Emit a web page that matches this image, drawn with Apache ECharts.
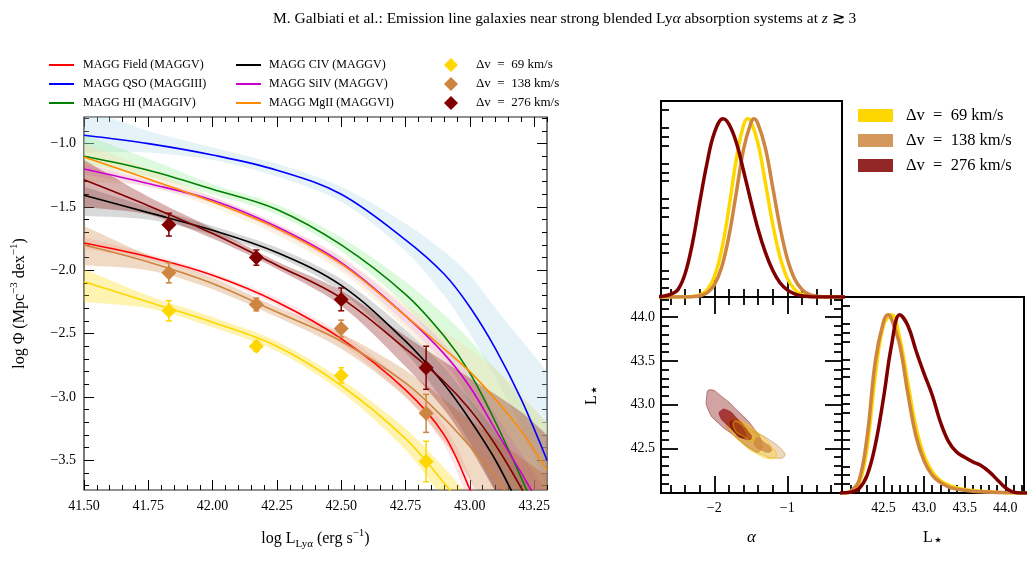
<!DOCTYPE html>
<html>
<head>
<meta charset="utf-8">
<script src="https://cdn.jsdelivr.net/npm/echarts@6/dist/echarts.min.js"></script>
<style>
  html, body { margin: 0; padding: 0; background: #fff; }
  #chart { width: 1032px; height: 575px; }
</style>
</head>
<body>
<div id="chart"></div>
<script>
  // ---- luminosity function panel ----
  const logL = [41.5, 41.75, 42.0, 42.25, 42.5, 42.75, 42.9, 43.0, 43.1, 43.2, 43.3];

  const fieldFit = [-1.785, -1.894, -2.04, -2.25, -2.54, -2.945, -3.30, -3.73, -4.25, -4.8, -5.4];
  const fieldLo = [-1.83, -1.92, -2.06, -2.28, -2.58, -3.0, -3.38, -3.85, -4.4, -5.0, -5.6];
  const fieldHi = [-1.74, -1.87, -2.02, -2.22, -2.50, -2.89, -3.22, -3.62, -4.1, -4.6, -5.2];

  const qsoFit = [-0.934, -1.00, -1.09, -1.21, -1.40, -1.76, -2.03, -2.29, -2.62, -3.02, -3.50];
  const qsoLo = [-1.07, -1.07, -1.13, -1.26, -1.46, -1.85, -2.20, -2.50, -2.85, -3.25, -3.70];
  const qsoHi = [-0.72, -0.90, -1.03, -1.16, -1.34, -1.63, -1.85, -2.04, -2.30, -2.55, -2.80];

  const hiFit = [-1.10, -1.21, -1.36, -1.52, -1.80, -2.19, -2.52, -2.81, -3.20, -3.64, -4.1];
  const hiLo = [-1.16, -1.26, -1.40, -1.56, -1.85, -2.28, -2.68, -3.05, -3.5, -4.0, -4.5];
  const hiHi = [-0.93, -1.12, -1.32, -1.48, -1.74, -2.09, -2.35, -2.55, -2.78, -3.0, -3.2];

  const civFit = [-1.408, -1.545, -1.684, -1.86, -2.12, -2.56, -2.90, -3.18, -3.50, -3.90, -4.35];
  const civLo = [-1.57, -1.60, -1.72, -1.89, -2.17, -2.65, -3.04, -3.36, -3.75, -4.2, -4.7];
  const civHi = [-1.34, -1.50, -1.65, -1.82, -2.07, -2.47, -2.77, -3.02, -3.28, -3.6, -3.95];

  const siivFit = [-1.20, -1.315, -1.447, -1.657, -1.94, -2.36, -2.66, -2.92, -3.26, -3.60, -3.95];
  const siivLo = [-1.24, -1.34, -1.47, -1.69, -1.98, -2.42, -2.74, -3.02, -3.38, -3.75, -4.15];
  const siivHi = [-1.16, -1.29, -1.42, -1.63, -1.90, -2.30, -2.58, -2.82, -3.14, -3.45, -3.75];

  const mgiiFit = [-1.105, -1.28, -1.46, -1.67, -1.95, -2.36, -2.62, -2.80, -3.02, -3.27, -3.58];
  const mgiiLo = [-1.30, -1.34, -1.50, -1.72, -2.01, -2.46, -2.78, -3.0, -3.3, -3.6, -3.95];
  const mgiiHi = [-1.0, -1.20, -1.42, -1.63, -1.89, -2.27, -2.48, -2.62, -2.78, -2.98, -3.2];

  const dv69Fit = [-2.09, -2.25, -2.41, -2.60, -2.91, -3.33, -3.68, -3.95, -4.3, -4.7, -5.1];
  const dv69Lo = [-2.25, -2.30, -2.45, -2.64, -2.96, -3.42, -3.82, -4.15, -4.5, -4.9, -5.3];
  const dv69Hi = [-1.99, -2.20, -2.37, -2.56, -2.86, -3.25, -3.56, -3.80, -4.1, -4.5, -4.9];

  const dv138Fit = [-1.80, -1.934, -2.104, -2.33, -2.56, -2.89, -3.17, -3.39, -3.63, -3.95, -4.3];
  const dv138Lo = [-1.96, -2.00, -2.15, -2.37, -2.62, -3.00, -3.35, -3.65, -4.0, -4.35, -4.7];
  const dv138Hi = [-1.65, -1.88, -2.06, -2.29, -2.50, -2.79, -3.02, -3.18, -3.33, -3.48, -3.62];

  const dv276Fit = [-1.286, -1.49, -1.71, -1.96, -2.22, -2.62, -2.88, -3.10, -3.38, -3.72, -4.1];
  const dv276Lo = [-1.50, -1.56, -1.75, -1.99, -2.28, -2.76, -3.10, -3.40, -3.75, -4.1, -4.5];
  const dv276Hi = [-1.13, -1.42, -1.67, -1.93, -2.16, -2.52, -2.72, -2.85, -2.98, -3.12, -3.3];

  // binned measurements
  const binL = [41.83, 42.17, 42.50, 42.83];
  const dv69Phi = [-2.32, -2.60, -2.83, -3.51];
  const dv69Err = [0.08, 0.04, 0.06, 0.16];
  const dv138Phi = [-2.02, -2.27, -2.46, -3.13];
  const dv138Err = [0.08, 0.05, 0.066, 0.15];
  const dv276Phi = [-1.64, -1.90, -2.23, -2.77];
  const dv276Err = [0.09, 0.06, 0.09, 0.17];

  const xMajorTicks = [41.5, 41.75, 42.0, 42.25, 42.5, 42.75, 43.0, 43.25];
  const yMajorTicks = [-3.5, -3.0, -2.5, -2.0, -1.5, -1.0];

  // ---- corner plot ----
  const alpha69X = [-2.8, -2.7, -2.6, -2.5, -2.4, -2.3, -2.2, -2.1, -2.0, -1.9, -1.8, -1.7, -1.6, -1.54, -1.5,
    -1.4, -1.3, -1.2, -1.1, -1.0, -0.9, -0.8, -0.7, -0.6, -0.5, -0.4, -0.3, -0.2];
  const alpha69 = [0, 0, 0, 0, 0.001, 0.003, 0.011, 0.039, 0.113, 0.262, 0.498, 0.768, 0.963, 1.0, 0.988,
    0.86, 0.642, 0.411, 0.226, 0.106, 0.043, 0.015, 0.004, 0.001, 0, 0, 0, 0];
  const alpha138X = [-2.8, -2.7, -2.6, -2.5, -2.4, -2.3, -2.2, -2.1, -2.0, -1.9, -1.8, -1.7, -1.6, -1.5, -1.455,
    -1.4, -1.3, -1.2, -1.1, -1.0, -0.9, -0.8, -0.7, -0.6, -0.5, -0.4, -0.3, -0.2];
  const alpha138 = [0, 0, 0, 0, 0, 0.002, 0.007, 0.023, 0.068, 0.166, 0.34, 0.58, 0.827, 0.975, 1.0,
    0.97, 0.837, 0.618, 0.394, 0.216, 0.102, 0.042, 0.015, 0.005, 0.001, 0, 0, 0];
  const alpha276X = [-2.8, -2.7, -2.6, -2.5, -2.4, -2.3, -2.2, -2.1, -2.0, -1.88, -1.8, -1.7, -1.6, -1.5,
    -1.4, -1.3, -1.2, -1.1, -1.0, -0.9, -0.8, -0.7, -0.6, -0.5, -0.4, -0.3, -0.2];
  const alpha276 = [0.002, 0.005, 0.015, 0.04, 0.13, 0.30, 0.53, 0.75, 0.92, 1.0, 0.97, 0.87, 0.71, 0.54,
    0.38, 0.25, 0.15, 0.08, 0.04, 0.018, 0.007, 0.002, 0, 0, 0, 0, 0];

  const lstarX = [41.9, 42.0, 42.1, 42.2, 42.3, 42.4, 42.5, 42.6, 42.7, 42.8, 42.9, 43.0, 43.1,
    43.2, 43.3, 43.4, 43.5, 43.6, 43.7, 43.8, 43.9, 44.0, 44.1, 44.2, 44.3];
  const lstar69 = [0, 0, 0.008, 0.05, 0.26, 0.66, 0.94, 1.0, 0.87, 0.62, 0.37, 0.21, 0.12,
    0.07, 0.045, 0.03, 0.02, 0.014, 0.01, 0.007, 0.004, 0.002, 0.001, 0, 0];
  const lstar138X = [41.9, 42.0, 42.1, 42.2, 42.3, 42.4, 42.5, 42.56, 42.6, 42.7, 42.8, 42.9, 43.0, 43.1,
    43.2, 43.3, 43.4, 43.5, 43.6, 43.7, 43.8, 43.9, 44.0, 44.1, 44.2, 44.3];
  const lstar138 = [0, 0, 0.012, 0.07, 0.32, 0.74, 0.96, 1.0, 0.975, 0.83, 0.56, 0.32, 0.18, 0.10,
    0.06, 0.035, 0.022, 0.015, 0.01, 0.007, 0.005, 0.003, 0.002, 0.001, 0, 0];
  const lstar276 = [0, 0.001, 0.005, 0.025, 0.10, 0.27, 0.53, 0.83, 1.0, 0.94, 0.80, 0.67, 0.55,
    0.40, 0.29, 0.23, 0.20, 0.175, 0.155, 0.12, 0.075, 0.03, 0.005, 0, 0];

  // contour outlines [alpha, L*]
  const c276Outer = [[-2.104, 43.093], [-2.059, 43.169], [-1.899, 43.093], [-1.673, 42.923], [-1.445, 42.715],
    [-1.354, 42.565], [-1.377, 42.47], [-1.49, 42.489], [-1.718, 42.64], [-1.946, 42.79], [-2.082, 42.94]];
  const c276Mid = [[-1.922, 42.923], [-1.831, 42.942], [-1.673, 42.829], [-1.537, 42.696], [-1.49, 42.62],
    [-1.559, 42.602], [-1.695, 42.678], [-1.854, 42.79], [-1.922, 42.866]];
  const c276Inner = [[-1.772, 42.81], [-1.695, 42.79], [-1.605, 42.715], [-1.572, 42.64], [-1.627, 42.62],
    [-1.718, 42.678], [-1.772, 42.753]];
  const c138Outer = [[-1.763, 42.848], [-1.49, 42.715], [-1.218, 42.583], [-1.06, 42.47], [-1.037, 42.413],
    [-1.128, 42.387], [-1.354, 42.432], [-1.582, 42.545], [-1.763, 42.678], [-1.831, 42.79]];
  const c138Inner = [[-1.422, 42.62], [-1.309, 42.565], [-1.218, 42.497], [-1.241, 42.458], [-1.354, 42.481],
    [-1.445, 42.545]];
  const c69Outer = [[-1.786, 42.848], [-1.627, 42.81], [-1.40, 42.678], [-1.218, 42.526], [-1.15, 42.413],
    [-1.218, 42.383], [-1.40, 42.432], [-1.627, 42.565], [-1.786, 42.715], [-1.831, 42.81]];
  const c69Inner = [[-1.718, 42.81], [-1.559, 42.735], [-1.445, 42.64], [-1.469, 42.583], [-1.605, 42.64],
    [-1.718, 42.715]];

  const alphaMajor = [-2, -1];
  const lstarMajor = [42.5, 43.0, 43.5, 44.0];
  const densTicks = [0.05, 0.1, 0.15, 0.25, 0.3, 0.35, 0.45, 0.5, 0.55, 0.65, 0.7, 0.75, 0.85, 0.9, 0.95, 1.05];

  const dvNames = ['Δv = 69 km/s', 'Δv = 138 km/s', 'Δv = 276 km/s'];
  const dvColors = ['#FFD700', '#CD853F', '#800000'];

  // ------------------------------------------------------------
  const serif = 'Liberation Serif';
  const minus = (v, d) => (v < 0 ? '\u2212' : '') + Math.abs(v).toFixed(d);
  const wideEq = (name) => name.replace(' = ', '  =  ');

  function steps(a, b, st, skip) {
    const out = [];
    for (let k = Math.round(a / st); k * st <= b + 1e-9; k++) {
      const v = Math.round(k * st * 1000) / 1000;
      if (!skip.some(s => Math.abs(s - v) < 1e-6)) out.push(v);
    }
    return out;
  }
  const xMinorTicks = steps(41.5, 43.3, 0.05, xMajorTicks);
  const yMinorTicks = steps(-3.7, -0.8, 0.1, yMajorTicks);
  const alphaMinor = steps(-2.6, -0.4, 0.2, alphaMajor);
  const lstarMinor = steps(42.1, 44.2, 0.1, lstarMajor);

  const LX = [41.5, 43.30], LY = [-3.735, -0.79];
  const AX = [-2.73, -0.25], SX = [41.99, 44.23], DY = [0, 1.1];

  function axis(grid, pos, range, ticks, len, width, extra) {
    return Object.assign({
      type: 'value', gridIndex: grid, position: pos, min: range[0], max: range[1],
      axisLine: { show: false }, splitLine: { show: false },
      axisLabel: { show: false },
      axisTick: { show: true, inside: true, length: len, customValues: ticks,
        lineStyle: { color: '#000', width: width } }
    }, extra || {});
  }
  function labels(ticks, fmt, margin, size) {
    return { show: true, customValues: ticks, formatter: fmt, margin: margin,
      fontFamily: serif, fontSize: size, color: '#000' };
  }
  const nameStyle = (size) => ({
    fontFamily: serif, fontSize: size, color: '#000',
    rich: {
      n: { fontFamily: serif, fontSize: size, lineHeight: 22, verticalAlign: 'middle' },
      s: { fontFamily: serif, fontSize: size - 5, lineHeight: 12, verticalAlign: 'bottom' },
      st: { fontFamily: 'DejaVu Sans', fontSize: size, lineHeight: 16, verticalAlign: 'bottom' },
      p: { fontFamily: serif, fontSize: size - 5, lineHeight: 12, verticalAlign: 'top' },
      i: { fontFamily: serif, fontSize: size + 1, fontStyle: 'italic', lineHeight: 22 }
    }
  });

  const xAxes = [
    axis(0, 'bottom', LX, xMajorTicks, 10, 1, {
      axisLabel: labels(xMajorTicks, v => v.toFixed(2), 9, 14),
      name: '{n|log L}{s|Lyα}{n| (erg s}{p|−1}{n|)}', nameLocation: 'middle', nameGap: 38,
      nameTextStyle: nameStyle(16)
    }),
    axis(0, 'bottom', LX, xMinorTicks, 5, 1),
    axis(0, 'top', LX, xMajorTicks, 10, 1),
    axis(0, 'top', LX, xMinorTicks, 5, 1),
    axis(1, 'bottom', AX, alphaMajor, 17, 1.8),
    axis(1, 'bottom', AX, alphaMinor, 8, 1.8),
    axis(2, 'bottom', AX, alphaMajor, 17, 1.8, {
      axisLabel: labels(alphaMajor, v => minus(v, 0), 8, 14),
      name: '{i|α}', nameLocation: 'middle', nameGap: 34, nameTextStyle: nameStyle(16)
    }),
    axis(2, 'bottom', AX, alphaMinor, 8, 1.8),
    axis(2, 'top', AX, alphaMajor, 17, 1.8),
    axis(2, 'top', AX, alphaMinor, 8, 1.8),
    axis(3, 'bottom', SX, lstarMajor, 17, 1.8, {
      axisLabel: labels(lstarMajor, v => v.toFixed(1), 8, 14),
      name: '{n|L}{st|⋆}', nameLocation: 'middle', nameGap: 34, nameTextStyle: nameStyle(16)
    }),
    axis(3, 'bottom', SX, lstarMinor, 8, 1.8)
  ];
  const yAxes = [
    axis(0, 'left', LY, yMajorTicks, 10, 1, {
      axisLabel: labels(yMajorTicks, v => minus(v, 1), 8, 14),
      name: '{n|log Φ (Mpc}{p|−3}{n| dex}{p|−1}{n|)}', nameLocation: 'middle', nameGap: 53,
      nameTextStyle: nameStyle(16)
    }),
    axis(0, 'left', LY, yMinorTicks, 5, 1),
    axis(0, 'right', LY, yMajorTicks, 10, 1),
    axis(0, 'right', LY, yMinorTicks, 5, 1),
    axis(1, 'left', DY, densTicks, 8, 1.8),
    axis(2, 'left', SX, lstarMajor, 17, 1.8, {
      axisLabel: labels(lstarMajor, v => v.toFixed(1), 6, 14),
      name: '{n|L}{st|⋆}', nameLocation: 'middle', nameGap: 58, nameTextStyle: nameStyle(16)
    }),
    axis(2, 'left', SX, lstarMinor, 8, 1.8),
    axis(2, 'right', SX, lstarMajor, 17, 1.8),
    axis(2, 'right', SX, lstarMinor, 8, 1.8),
    axis(3, 'left', DY, densTicks, 8, 1.8)
  ];

  // ---- series builders ----
  function fitLine(name, ys, color, z) {
    return {
      name: name, type: 'line', xAxisIndex: 0, yAxisIndex: 0, z: z || 3,
      data: logL.map((x, i) => [x, ys[i]]),
      smooth: 0.35, symbol: 'none', clip: true, silent: true,
      lineStyle: { color: color, width: 1.6 }, itemStyle: { color: color }
    };
  }
  function band(lo, hi, fill) {
    return {
      type: 'custom', xAxisIndex: 0, yAxisIndex: 0, z: 1, silent: true,
      data: logL.map((x, i) => [x, lo[i], hi[i]]),
      encode: { x: 0, y: [1, 2] },
      renderItem: function (params, api) {
        if (params.dataIndex !== 0) return null;
        const n = logL.length;
        const pts = [api.coord([logL[0], hi[0]])];
        for (let i = 0; i < n; i++) pts.push(api.coord([logL[i], hi[i]]));
        pts.push(api.coord([logL[n - 1], hi[n - 1]]));
        pts.push(api.coord([logL[n - 1], lo[n - 1]]));
        for (let i = n - 1; i >= 0; i--) pts.push(api.coord([logL[i], lo[i]]));
        pts.push(api.coord([logL[0], lo[0]]));
        const cs = params.coordSys;
        return {
          type: 'polygon', shape: { points: pts, smooth: 0.3 }, style: { fill: fill },
          clipPath: { type: 'rect', shape: { x: cs.x, y: cs.y, width: cs.width, height: cs.height } }
        };
      }
    };
  }
  function errorBars(ys, errs, color) {
    return {
      type: 'custom', xAxisIndex: 0, yAxisIndex: 0, z: 4, silent: true,
      data: binL.map((x, i) => [x, ys[i] - errs[i], ys[i] + errs[i]]),
      encode: { x: 0, y: [1, 2] },
      renderItem: function (params, api) {
        const lo = api.coord([api.value(0), api.value(1)]);
        const hi = api.coord([api.value(0), api.value(2)]);
        const st = { stroke: color, lineWidth: 1.5 };
        return { type: 'group', children: [
          { type: 'line', shape: { x1: lo[0], y1: lo[1], x2: hi[0], y2: hi[1] }, style: st },
          { type: 'line', shape: { x1: lo[0] - 3, y1: lo[1], x2: lo[0] + 3, y2: lo[1] }, style: st },
          { type: 'line', shape: { x1: hi[0] - 3, y1: hi[1], x2: hi[0] + 3, y2: hi[1] }, style: st }
        ] };
      }
    };
  }
  function points(name, ys, color) {
    return {
      name: name, type: 'scatter', xAxisIndex: 0, yAxisIndex: 0, z: 5,
      data: binL.map((x, i) => [x, ys[i]]),
      symbol: 'diamond', symbolSize: 15, itemStyle: { color: color, opacity: 1 }
    };
  }
  function posterior(name, grid, xs, ys, color) {
    return {
      name: name, type: 'line', xAxisIndex: grid === 1 ? 4 : 10, yAxisIndex: grid === 1 ? 4 : 9,
      data: xs.map((x, i) => [x, ys[i]]), smooth: 0.4, symbol: 'none', clip: true, silent: true,
      lineStyle: { color: color, width: 3.5 }, itemStyle: { color: color }
    };
  }
  function contour(pts, fill, stroke, width) {
    return {
      type: 'custom', xAxisIndex: 6, yAxisIndex: 5, silent: true, z: 2,
      data: pts, encode: { x: 0, y: 1 },
      renderItem: function (params, api) {
        if (params.dataIndex !== 0) return null;
        return {
          type: 'polygon',
          shape: { points: pts.map(p => api.coord(p)), smooth: 0.6 },
          style: { fill: fill, stroke: stroke, lineWidth: width }
        };
      }
    };
  }

  const series = [
    points(dvNames[0], dv69Phi, dvColors[0]),
    points(dvNames[1], dv138Phi, dvColors[1]),
    points(dvNames[2], dv276Phi, dvColors[2]),

    fitLine('MAGG Field (MAGGV)', fieldFit, '#FF0000'),
    fitLine('MAGG QSO (MAGGIII)', qsoFit, '#0000FF'),
    fitLine('MAGG HI (MAGGIV)', hiFit, '#008000'),
    fitLine('MAGG CIV (MAGGV)', civFit, '#000000'),
    fitLine('MAGG SiIV (MAGGV)', siivFit, '#CC00CC'),
    fitLine('MAGG MgII (MAGGVI)', mgiiFit, '#FF8C00'),
    fitLine(dvNames[0], dv69Fit, dvColors[0]),
    fitLine(dvNames[1], dv138Fit, dvColors[1]),
    fitLine(dvNames[2], dv276Fit, dvColors[2]),

    band(qsoLo, qsoHi, 'rgba(173,216,230,0.32)'),
    band(hiLo, hiHi, 'rgba(144,238,144,0.3)'),
    band(mgiiLo, mgiiHi, 'rgba(245,222,179,0.4)'),
    band(siivLo, siivHi, 'rgba(238,130,238,0.22)'),
    band(civLo, civHi, 'rgba(128,128,128,0.3)'),
    band(fieldLo, fieldHi, 'rgba(255,170,180,0.3)'),
    band(dv69Lo, dv69Hi, 'rgba(255,215,0,0.3)'),
    band(dv138Lo, dv138Hi, 'rgba(205,133,63,0.3)'),
    band(dv276Lo, dv276Hi, 'rgba(128,0,0,0.3)'),

    errorBars(dv69Phi, dv69Err, dvColors[0]),
    errorBars(dv138Phi, dv138Err, dvColors[1]),
    errorBars(dv276Phi, dv276Err, dvColors[2]),

    posterior(dvNames[0], 1, alpha69X, alpha69, dvColors[0]),
    posterior(dvNames[1], 1, alpha138X, alpha138, dvColors[1]),
    posterior(dvNames[2], 1, alpha276X, alpha276, dvColors[2]),
    posterior(dvNames[0], 3, lstarX, lstar69, dvColors[0]),
    posterior(dvNames[1], 3, lstar138X, lstar138, dvColors[1]),
    posterior(dvNames[2], 3, lstarX, lstar276, dvColors[2]),

    contour(c276Outer, 'rgba(128,0,0,0.36)', 'rgba(128,0,0,0.55)', 0.8),
    contour(c138Outer, 'rgba(205,133,63,0.33)', 'rgba(205,133,63,0.7)', 0.8),
    contour(c69Outer, 'rgba(255,215,0,0.28)', 'rgba(240,200,0,0.9)', 0.8),
    contour(c276Mid, 'rgba(150,20,20,0.75)', 'rgba(128,0,0,0.6)', 0.6),
    contour(c276Inner, 'rgba(139,26,26,0.95)', 'rgba(120,0,0,0.8)', 0.6),
    contour(c138Inner, 'rgba(205,133,63,0.75)', 'rgba(190,120,50,0.8)', 0.6),
    contour(c69Inner, 'rgba(255,215,0,0.2)', 'rgba(235,185,0,0.95)', 0.8)
  ];

  const legendText = (size, pad) => ({ fontFamily: serif, fontSize: size, color: '#000', padding: [0, 0, 0, pad] });
  const lineItem = (name) => ({ name: name, icon: 'rect' });

  const option = {
    animation: false,
    backgroundColor: '#fff',
    title: {
      text: 'M. Galbiati et al.: Emission line galaxies near strong blended Ly{i|α} absorption systems at {i|z} ≳ 3',
      left: 268, top: 6,
      textStyle: {
        fontFamily: serif, fontSize: 15.5, fontWeight: 'normal', color: '#000',
        rich: { i: { fontFamily: serif, fontSize: 15.5, fontStyle: 'italic' } }
      }
    },
    legend: [
      { left: 49, top: 59, padding: 0, orient: 'vertical', itemWidth: 25, itemHeight: 2, itemGap: 7,
        textStyle: legendText(12, 4),
        data: ['MAGG Field (MAGGV)', 'MAGG QSO (MAGGIII)', 'MAGG HI (MAGGIV)'].map(lineItem) },
      { left: 236, top: 59, padding: 0, orient: 'vertical', itemWidth: 25, itemHeight: 2, itemGap: 7,
        textStyle: legendText(12, 3),
        data: ['MAGG CIV (MAGGV)', 'MAGG SiIV (MAGGV)', 'MAGG MgII (MAGGVI)'].map(lineItem) },
      { left: 444, top: 58, padding: 0, orient: 'vertical', itemWidth: 14, itemHeight: 14, itemGap: 5,
        textStyle: legendText(13, 13), formatter: wideEq,
        data: dvNames.map(n => ({ name: n, icon: 'diamond' })) },
      { left: 858, top: 107, padding: 0, orient: 'vertical', itemWidth: 35, itemHeight: 13, itemGap: 8,
        textStyle: legendText(16.5, 8), formatter: wideEq,
        data: [
          { name: dvNames[0], icon: 'rect', itemStyle: { color: '#FFD700' } },
          { name: dvNames[1], icon: 'rect', itemStyle: { color: '#D4975C' } },
          { name: dvNames[2], icon: 'rect', itemStyle: { color: '#932626' } }
        ] }
    ],
    grid: [
      { left: 84, top: 117, width: 463, height: 373, show: true, borderColor: '#222', borderWidth: 1.2 },
      { left: 661, top: 101, width: 181, height: 196, show: true, borderColor: '#000', borderWidth: 2 },
      { left: 661, top: 297, width: 181, height: 196, show: true, borderColor: '#000', borderWidth: 2 },
      { left: 842, top: 297, width: 182, height: 196, show: true, borderColor: '#000', borderWidth: 2 }
    ],
    xAxis: xAxes,
    yAxis: yAxes,
    series: series
  };

  const myChart = echarts.init(document.getElementById('chart'));
  myChart.setOption(option);
  window.addEventListener('resize', function () {
    myChart && myChart.resize();
  });
</script>
</body>
</html>
